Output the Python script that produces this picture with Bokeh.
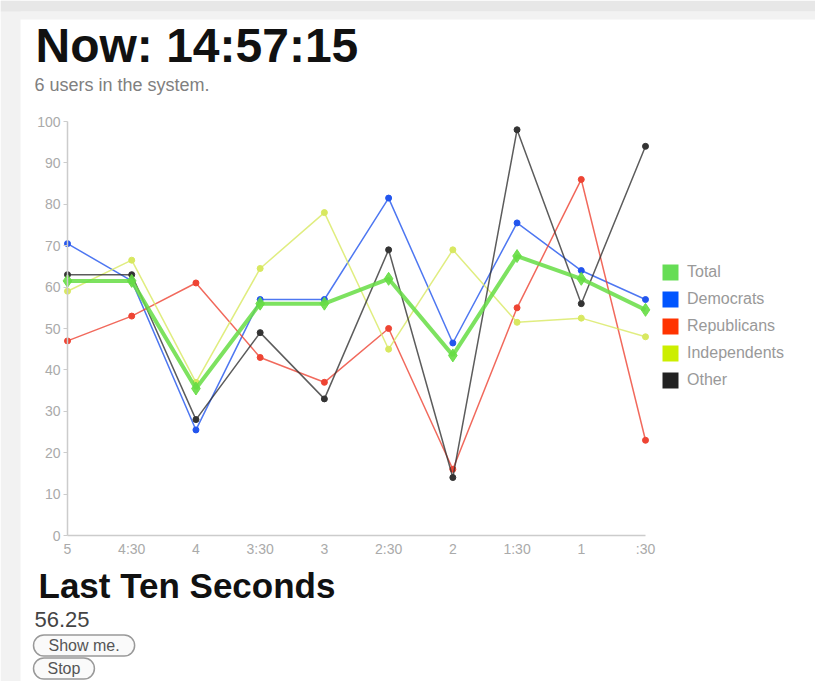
import math
from bokeh.plotting import figure
from bokeh.models import (Range1d, FixedTicker, Label, Legend, LegendItem,
                          BoxAnnotation, ColumnDataSource)
from bokeh.embed import file_html
from bokeh.resources import INLINE

# ---- data ----
tick_labels = ["5", "4:30", "4", "3:30", "3", "2:30", "2", "1:30", "1", ":30"]
positions = list(range(len(tick_labels)))

total        = [61.5, 61.5, 35.5, 56.0, 56.0, 62.0, 43.5, 67.5, 62.0, 54.5]
democrats    = [70.5, 61.5, 25.5, 57.0, 57.0, 81.5, 46.5, 75.5, 64.0, 57.0]
republicans  = [47.0, 53.0, 61.0, 43.0, 37.0, 50.0, 16.0, 55.0, 86.0, 23.0]
independents = [59.0, 66.5, 37.0, 64.5, 78.0, 45.0, 69.0, 51.5, 52.5, 48.0]
other        = [63.0, 63.0, 28.0, 49.0, 33.0, 69.0, 14.0, 98.0, 56.0, 94.0]

series_names = ["Total", "Democrats", "Republicans", "Independents", "Other"]
swatch_colors = ["#66dd55", "#0055ff", "#ff3300", "#ccee00", "#222222"]
line_colors = ["#66dd44", "#2255ee", "#ee4433", "#d8e860", "#333333"]

heading = "Now: 14:57:15"
subheading = "6 users in the system."
section = "Last Ten Seconds"
section_value = "56.25"
buttons = ["Show me.", "Stop"]

FONT = "Liberation Sans"
W, H = 815, 681

# page-pixel <-> data mapping (chart area: x 0..9 over 67..645 px, y 0..100 over 535..121 px)
X0, X9 = 67.0, 645.0
Y0, Y100 = 535.0, 121.0
def px2x(px):
    return (px - X0) * 9.0 / (X9 - X0)
def py2y(py):
    return (Y0 - py) * 100.0 / (Y0 - Y100)

p = figure(width=W, height=H, output_backend="svg", toolbar_location=None,
           x_range=Range1d(px2x(0), px2x(W)), y_range=Range1d(py2y(H), py2y(0)),
           min_border=0, background_fill_color="white", border_fill_color="white")
p.outline_line_color = None
p.grid.visible = False

# axes placed at data origin, limited to the data extent
p.yaxis.fixed_location = 0
p.xaxis.fixed_location = 0
p.yaxis.bounds = (0, 100)
p.xaxis.bounds = (0, 9)
p.yaxis.ticker = FixedTicker(ticks=list(range(0, 101, 10)))
p.xaxis.ticker = FixedTicker(ticks=positions)
p.xaxis.major_label_overrides = {i: t for i, t in zip(positions, tick_labels)}
for ax in (p.xaxis, p.yaxis):
    ax.axis_line_color = "#cccccc"
    ax.axis_line_width = 1.5
    ax.minor_tick_line_color = None
    ax.minor_tick_in = 0
    ax.minor_tick_out = 0
    ax.major_label_text_color = "#aaaaaa"
    ax.major_label_text_font = FONT
    ax.major_label_text_font_size = "14px"
p.yaxis.major_tick_in = 0
p.yaxis.major_tick_out = 4
p.yaxis.major_tick_line_color = "#cccccc"
p.yaxis.major_label_standoff = 3
p.xaxis.major_tick_line_color = None
p.xaxis.major_tick_in = 0
p.xaxis.major_tick_out = 0
p.xaxis.major_label_standoff = 5

# page shading
p.add_layout(BoxAnnotation(right=px2x(20), fill_color="#f2f2f2", fill_alpha=1, line_color=None))
p.add_layout(BoxAnnotation(bottom=py2y(19), top=py2y(11), fill_color="#f2f2f2",
                           fill_alpha=1, line_color=None))
p.add_layout(BoxAnnotation(bottom=py2y(11), fill_color="#e7e7e7", fill_alpha=1, line_color=None))

# series
all_vals = [total, democrats, republicans, independents, other]
for i in [1, 2, 3, 4, 0]:
    src = ColumnDataSource(dict(x=positions, y=all_vals[i]))
    if i == 0:
        p.line("x", "y", source=src, line_color=line_colors[i], line_width=4, line_alpha=0.85)
        p.scatter("x", "y", source=src, marker="diamond", size=13,
                  fill_color=line_colors[i], line_color=line_colors[i], alpha=0.9)
    else:
        p.line("x", "y", source=src, line_color=line_colors[i], line_width=1.5, line_alpha=0.8)
        p.scatter("x", "y", source=src, marker="circle", size=6,
                  fill_color=line_colors[i], line_color=line_colors[i])

# legend with square swatches
nan = float("nan")
items = []
for name, c in zip(series_names, swatch_colors):
    r = p.quad(left=[nan], right=[nan], top=[nan], bottom=[nan], fill_color=c, line_color=None)
    items.append(LegendItem(label=name, renderers=[r]))
legend = Legend(items=items, location=(660, 291), padding=0, margin=0,
                glyph_width=20, glyph_height=20, label_height=20,
                spacing=7, label_standoff=7,
                label_text_font=FONT, label_text_font_size="16px",
                label_text_color="#999999",
                border_line_color=None, background_fill_alpha=0)
p.add_layout(legend)

def lab(x_px, y_px, text, size, color, bold=False, **kw):
    l = Label(x=px2x(x_px), y=py2y(y_px), text=text, text_font=FONT, text_font_size=size,
              text_color=color, text_font_style="bold" if bold else "normal",
              text_baseline="middle", **kw)
    p.add_layout(l)
    return l

lab(35, 45, heading, "48px", "#111111", bold=True)
lab(34, 84.5, subheading, "18px", "#808080")
lab(38, 585, section, "35px", "#111111", bold=True)
lab(34, 618.5, section_value, "22px", "#444444")
btn_style = dict(border_line_color="#999999", border_line_width=1.5,
                 background_fill_color="#fafafa", border_radius=11)
lab(33, 645, buttons[0], "16px", "#555555",
    padding=dict(left=15, right=15, top=2, bottom=2), **btn_style)
lab(33, 668, buttons[1], "16px", "#555555",
    padding=dict(left=14, right=14, top=2, bottom=2), **btn_style)

open("out.html", "w").write(file_html(p, INLINE))
